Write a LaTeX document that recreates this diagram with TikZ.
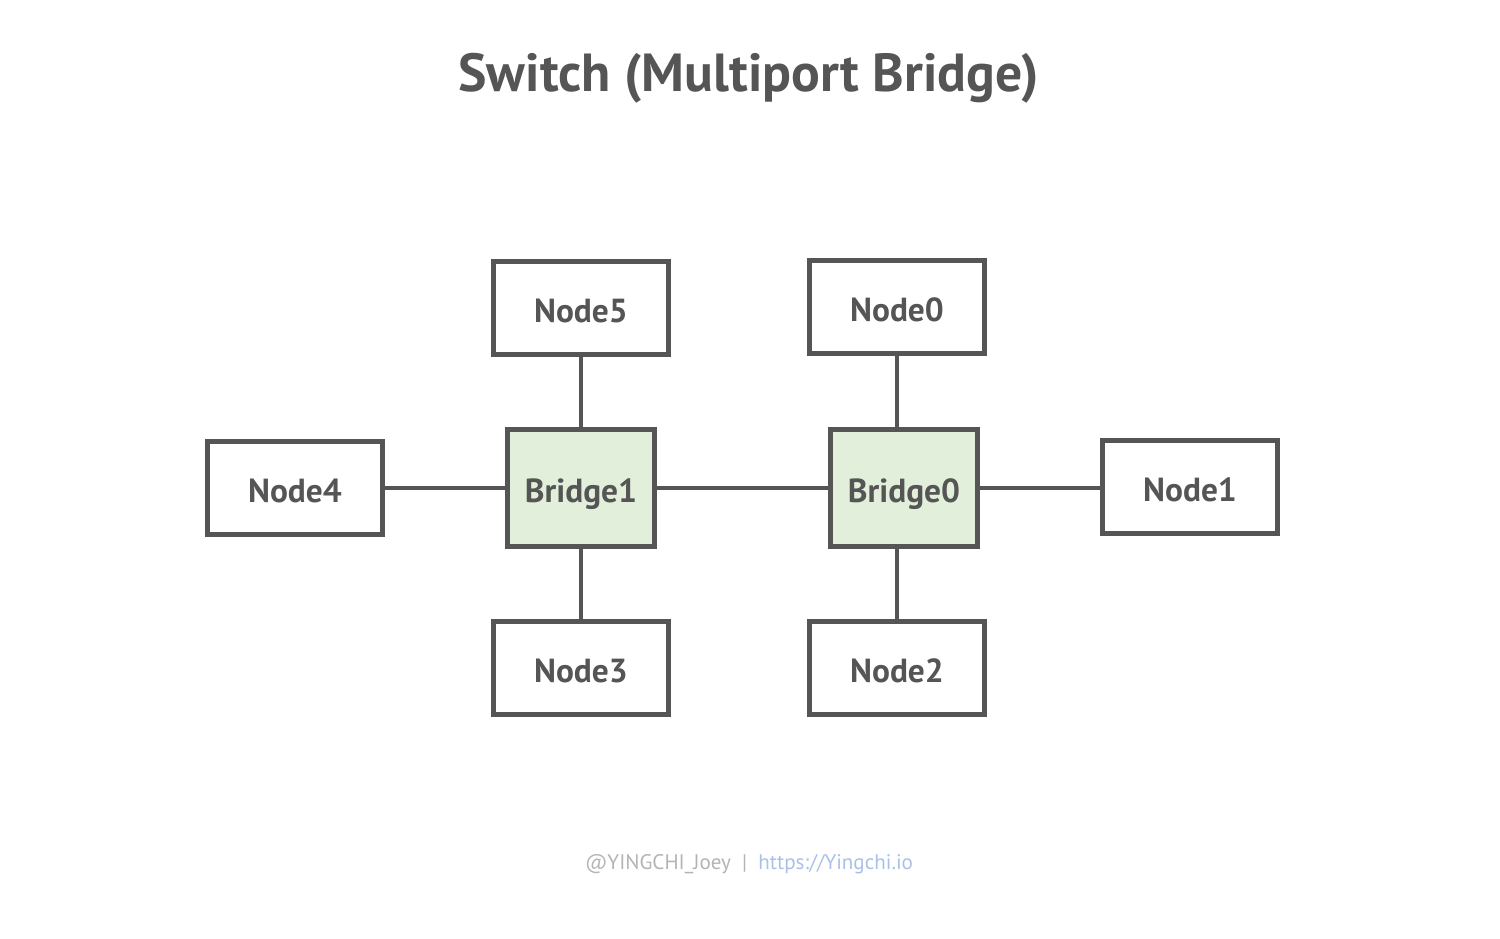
\documentclass[tikz,border=0pt]{standalone}
\usepackage{fontspec}
\setmainfont{PT Sans}
\definecolor{linegray}{HTML}{555555}
\definecolor{bridgefill}{HTML}{E2EFDA}
\definecolor{footgray}{HTML}{B4B4B4}
\definecolor{footblue}{HTML}{A9C1E8}
\begin{document}
\begin{tikzpicture}[x=0.02cm,y=-0.02cm]
\tikzstyle{every node}=[inner sep=0pt, text=linegray, font=\bfseries\fontsize{19}{22}\selectfont]
\tikzstyle{hostbox}=[draw=linegray, line width=2.8pt, fill=white, minimum width=3.5cm, minimum height=1.86cm, text height=16pt, text depth=0pt]
\tikzstyle{bridgebox}=[draw=linegray, line width=2.8pt, fill=bridgefill, minimum width=2.94cm, minimum height=2.34cm, text height=16pt, text depth=0pt]
\useasboundingbox (0,0) rectangle (1500,938);
\draw (749,78) node (title) [font=\bfseries\fontsize{30.5}{36}\selectfont] {Switch (Multiport Bridge)};
\draw (581,488) node (bridge1) [bridgebox] {Bridge1};
\draw (904,488) node (bridge0) [bridgebox] {Bridge0};
\draw (581,308) node (node5) [hostbox] {Node5};
\draw (897,307) node (node0) [hostbox] {Node0};
\draw (295,488) node (node4) [hostbox] {Node4};
\draw (1190,487) node (node1) [hostbox] {Node1};
\draw (581,668) node (node3) [hostbox] {Node3};
\draw (897,668) node (node2) [hostbox] {Node2};
\draw (749,864) node (footer) [font=\fontsize{12}{14}\selectfont] {\textcolor{footgray}{@YINGCHI\_Joey~~|}~~\textcolor{footblue}{https://Yingchi.io}};
\draw[linegray, line width=2.8pt] (node5) -- (bridge1);
\draw[linegray, line width=2.8pt] (node3) -- (bridge1);
\draw[linegray, line width=2.8pt] (node4.east) -- (node4.east -| bridge1.west);
\draw[linegray, line width=2.8pt] (bridge1) -- (bridge0);
\draw[linegray, line width=2.8pt] (node0.south) -- (node0.south |- bridge0.north);
\draw[linegray, line width=2.8pt] (node2.north) -- (node2.north |- bridge0.south);
\draw[linegray, line width=2.8pt] (bridge0.east) -- (bridge0.east -| node1.west);
\end{tikzpicture}
\end{document}
